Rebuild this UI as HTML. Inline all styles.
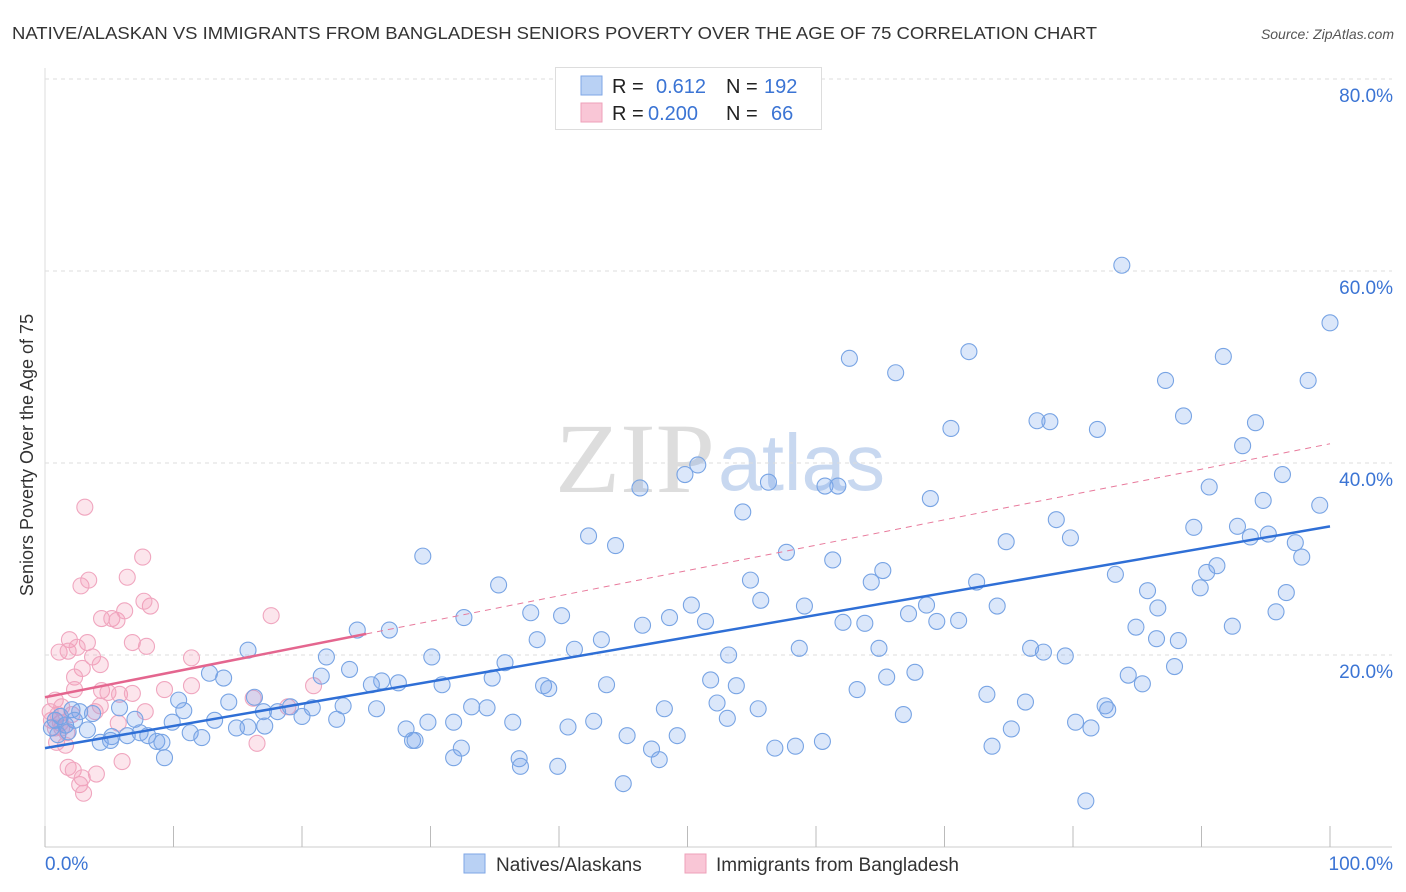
<!DOCTYPE html>
<html><head><meta charset="utf-8"><style>
body{margin:0;background:#fff;font-family:"Liberation Sans",sans-serif;}
svg{display:block}
</style></head><body>
<svg id="chart" width="1406" height="892" xmlns="http://www.w3.org/2000/svg">
<text x="12" y="39" font-size="17.5" fill="#333" textLength="1085" lengthAdjust="spacingAndGlyphs">NATIVE/ALASKAN VS IMMIGRANTS FROM BANGLADESH SENIORS POVERTY OVER THE AGE OF 75 CORRELATION CHART</text>
<text x="1394" y="39" font-size="14" fill="#555" font-style="italic" text-anchor="end">Source: ZipAtlas.com</text>
<text x="555" y="492" font-size="100" fill="#ddd" textLength="160" lengthAdjust="spacingAndGlyphs" font-family="Liberation Serif,serif">ZIP</text>
<text x="718" y="490" font-size="80" fill="#c8d8f0" textLength="167" lengthAdjust="spacingAndGlyphs">atlas</text>
<g id="grid"></g><g id="ticks"></g><g id="pinkPts"></g><g id="bluePts"></g><g id="lines"></g>
<text x="33" y="455" font-size="18" fill="#333" text-anchor="middle" transform="rotate(-90 33 455)">Seniors Poverty Over the Age of 75</text>
<g>
<rect x="555.5" y="67.5" width="266" height="62" fill="#fff" stroke="#ddd"/>
<rect x="581" y="76" width="21" height="19" fill="#b9d1f4" stroke="#7ea6e6"/>
<rect x="581" y="103" width="21" height="19" fill="#f9c6d6" stroke="#eea0b9"/>
<text x="612" y="93" font-size="20" fill="#222">R =</text><text x="656" y="93" font-size="20" fill="#3b74d4">0.612</text>
<text x="726" y="93" font-size="20" fill="#222">N =</text><text x="764" y="93" font-size="20" fill="#3b74d4">192</text>
<text x="612" y="120" font-size="20" fill="#222">R =</text><text x="648" y="120" font-size="20" fill="#3b74d4">0.200</text>
<text x="726" y="120" font-size="20" fill="#222">N =</text><text x="771" y="120" font-size="20" fill="#3b74d4">66</text>
</g>
<g>
<rect x="464" y="854" width="21" height="19" fill="#b9d1f4" stroke="#7ea6e6"/>
<text x="496" y="871" font-size="19" fill="#333">Natives/Alaskans</text>
<rect x="685" y="854" width="21" height="19" fill="#f9c6d6" stroke="#eea0b9"/>
<text x="716" y="871" font-size="19" fill="#333">Immigrants from Bangladesh</text>
</g>
</svg>
<script>
const yTicks=[20,40,60,80];
const yTickLabels=["20.0%","40.0%","60.0%","80.0%"];
const xTickLabels=["0.0%","100.0%"];
const blueX=[83.8,100,71.9,62.6,91.7,66.2,87.2,98.3,88.6,70.5,77.2,78.2,81.9,94.2,93.2,50.8,49.8,46.3,56.3,60.7,61.7,96.3,90.6,68.9,94.8,99.2,54.3,78.7,89.4,92.8,93.8,95.2,42.3,44.4,74.8,79.8,97.3,29.4,57.7,61.3,97.8,65.2,83.3,91.2,90.4,54.9,64.3,72.5,35.3,89.9,85.8,55.7,50.3,59.1,68.6,74.1,86.6,96.6,37.8,40.2,32.6,48.6,51.4,46.5,62.1,63.8,67.2,69.4,71.1,95.8,84.9,92.4,24.3,26.8,38.3,43.3,86.5,88.2,41.2,15.8,58.7,64.9,53.2,76.7,77.7,79.4,21.9,30.1,35.8,87.9,12.8,13.9,23.7,21.5,34.8,84.3,85.4,26.2,27.5,25.4,30.9,38.8,39.2,43.7,51.8,53.8,65.5,67.7,10.4,10.8,14.3,16.3,20.8,23.2,25.8,33.2,34.4,48.2,52.3,55.5,63.2,73.3,76.3,82.5,82.7,5.8,3.7,7.0,9.9,13.2,17.0,18.1,19.1,20.0,22.7,29.8,31.8,36.4,40.7,42.7,53.1,66.8,80.2,81.4,3.3,5.2,6.4,7.4,8.0,8.7,11.3,12.2,14.9,15.8,17.1,28.1,28.6,28.8,32.4,45.3,49.2,56.8,58.4,60.5,73.7,75.2,4.3,9.1,31.8,36.9,37.0,39.9,47.2,47.8,9.3,45.0,81.0,5.1,2.1,1.2,0.8,0.5,1.6,2.7,2.3,1.8,1.0];
const blueY=[60.6,54.6,51.6,50.9,51.1,49.4,48.6,48.6,44.9,43.6,44.4,44.3,43.5,44.2,41.8,39.8,38.8,37.4,38.0,37.6,37.6,38.8,37.5,36.3,36.1,35.6,34.9,34.1,33.3,33.4,32.3,32.6,32.4,31.4,31.8,32.2,31.7,30.3,30.7,29.9,30.2,28.8,28.4,29.3,28.6,27.8,27.6,27.6,27.3,27.0,26.7,25.7,25.2,25.1,25.2,25.1,24.9,26.5,24.4,24.1,23.9,23.9,23.5,23.1,23.4,23.3,24.3,23.5,23.6,24.5,22.9,23.0,22.6,22.6,21.6,21.6,21.7,21.5,20.6,20.5,20.7,20.7,20.0,20.7,20.3,19.9,19.8,19.8,19.2,18.8,18.1,17.6,18.5,17.8,17.6,17.9,17.0,17.3,17.1,16.9,16.9,16.8,16.5,16.9,17.4,16.8,17.7,18.2,15.3,14.2,15.1,15.6,14.5,14.7,14.4,14.6,14.5,14.4,15.0,14.4,16.4,15.9,15.1,14.7,14.3,14.5,13.9,13.3,13.0,13.2,14.1,14.1,14.6,13.6,13.3,13.0,13.0,13.0,12.5,13.1,13.4,13.8,13.0,12.4,12.2,11.5,11.6,11.9,11.6,11.0,11.9,11.4,12.4,12.5,12.6,12.3,11.1,11.1,10.3,11.6,11.6,10.3,10.5,11.0,10.5,12.3,10.9,10.9,9.3,9.2,8.4,8.4,10.2,9.1,9.3,6.6,4.8,11.1,14.3,13.6,13.2,12.4,12.7,14.1,13.2,12.0,11.7];
const pinkX=[3.1,7.6,6.4,2.8,3.4,8.2,7.7,4.4,5.2,5.6,6.2,17.6,1.9,1.1,1.8,3.3,2.5,7.9,6.8,3.7,4.3,2.9,2.3,11.4,9.3,2.3,4.4,4.9,5.8,6.8,11.4,16.2,0.8,1.3,3.9,4.3,7.8,18.9,20.9,5.7,16.5,1.3,0.9,1.8,2.2,4.0,2.9,2.7,3.0,6.0,0.5,1.2,1.7,0.4,0.8,1.6,2.1,1.0];
const pinkY=[35.4,30.2,28.1,27.2,27.8,25.1,25.6,23.8,23.8,23.6,24.6,24.1,21.6,20.3,20.4,21.3,20.8,20.9,21.3,19.8,19.0,18.6,17.7,19.7,16.4,16.4,16.3,16.1,15.9,16.0,16.8,15.5,15.3,14.6,14.1,14.7,14.1,14.6,16.8,12.9,10.8,12.4,10.9,8.3,8.0,7.6,7.2,6.5,5.6,8.9,13.2,12.9,11.9,14.1,12.4,10.6,13.8,13.8];
const blueTrend=[10.3,33.4];
const pinkTrend=[15.6,42.0];
const pinkSolidEnd=25;
const NS="http://www.w3.org/2000/svg";
const X0=45,X1=1330,Y0=847,PPY=9.6;
function sx(v){return X0+(X1-X0)*v/100;}
function sy(v){return Y0-v*PPY;}
function mk(tag,attrs,parent){const e=document.createElementNS(NS,tag);for(const k in attrs)e.setAttribute(k,attrs[k]);parent.appendChild(e);return e;}
const grid=document.getElementById('grid'),ticks=document.getElementById('ticks');
yTicks.forEach((t,i)=>{
 const l=mk('line',{x1:X0,x2:1392,y1:sy(t),y2:sy(t),stroke:'#ddd','stroke-dasharray':'4,4'},grid);
 
 
 const tx=mk('text',{x:1393,y:sy(t)+23,'font-size':19,fill:'#3b74d4','text-anchor':'end'},ticks);
 tx.textContent=yTickLabels[i];
 
 
});
const ax=mk('line',{x1:X0,x2:1392,y1:Y0,y2:Y0,stroke:'#ccc'},grid);


const ay=mk('line',{x1:X0,x2:X0,y1:68,y2:Y0,stroke:'#ddd'},grid);


for(let i=0;i<=10;i++){
 const t=mk('line',{x1:sx(i*10),x2:sx(i*10),y1:826,y2:Y0,stroke:'#bbb'},grid);
 
 
}
[[0,'start',45],[1,'end',1393]].forEach(([i,a,x])=>{
 const tx=mk('text',{x:x,y:870,'font-size':19,fill:'#3b74d4','text-anchor':a},ticks);
 tx.textContent=xTickLabels[i];
 
 
});
const pg=document.getElementById('pinkPts'),bg=document.getElementById('bluePts');
pinkX.forEach((v,i)=>{
 const c=mk('circle',{cx:sx(v),cy:sy(pinkY[i]),r:8,fill:'rgba(245,150,180,0.25)',stroke:'#f0a6bf','stroke-width':1.1},pg);
 
 
});
blueX.forEach((v,i)=>{
 const c=mk('circle',{cx:sx(v),cy:sy(blueY[i]),r:8,fill:'rgba(110,160,235,0.25)',stroke:'#78a4e4','stroke-width':1.1},bg);
 
 
});
const lg=document.getElementById('lines');
const pAt=x=>pinkTrend[0]+(pinkTrend[1]-pinkTrend[0])*x/100;
const pd=mk('line',{x1:sx(pinkSolidEnd),y1:sy(pAt(pinkSolidEnd)),x2:sx(100),y2:sy(pinkTrend[1]),stroke:'#e87a9c','stroke-width':1,'stroke-dasharray':'6,5'},lg);


const ps=mk('line',{x1:sx(0),y1:sy(pinkTrend[0]),x2:sx(pinkSolidEnd),y2:sy(pAt(pinkSolidEnd)),stroke:'#e4668f','stroke-width':2.5},lg);


const bl=mk('line',{x1:sx(0),y1:sy(blueTrend[0]),x2:sx(100),y2:sy(blueTrend[1]),stroke:'#2f6fd6','stroke-width':2.5},lg);


</script>
</body></html>
